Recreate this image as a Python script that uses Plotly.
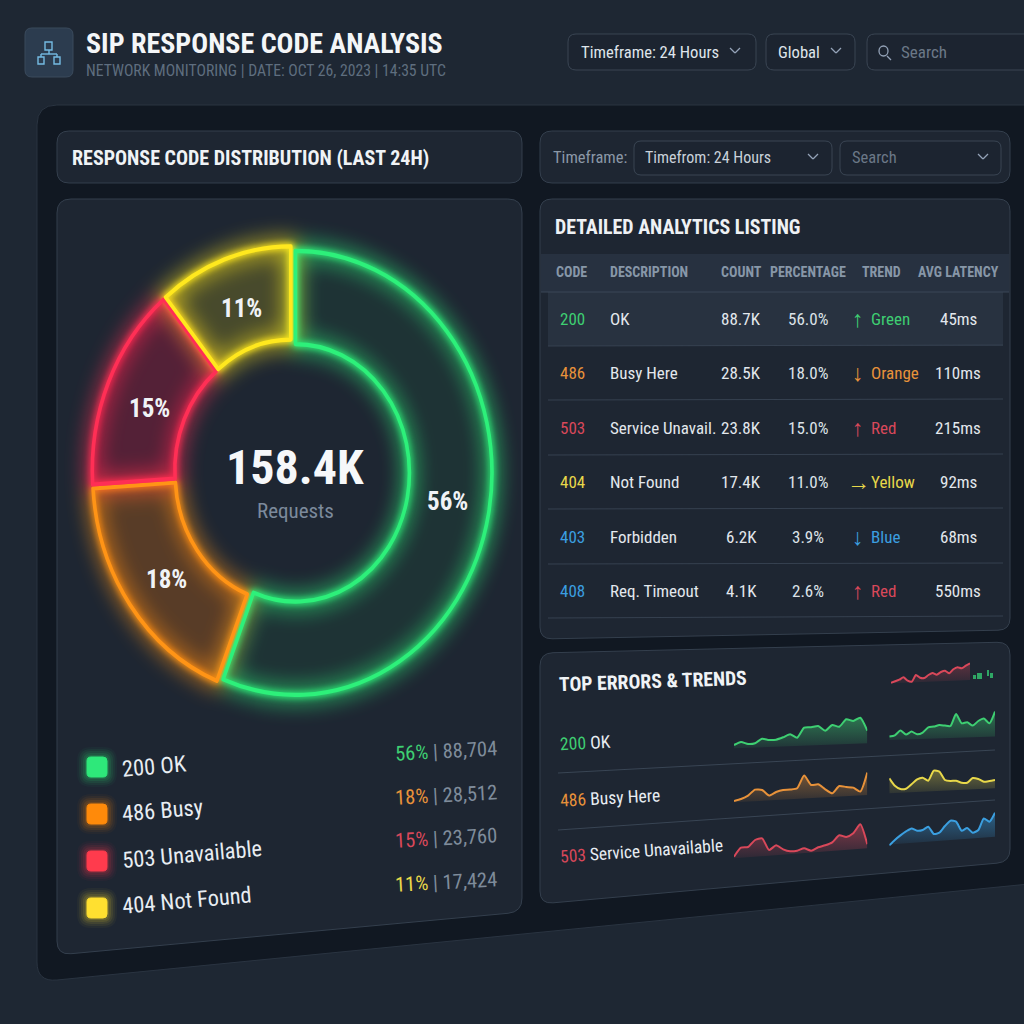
import plotly.graph_objects as go

# chart data
code_names = ['200 OK', '486 Busy', '503 Unavailable', '404 Not Found']
code_counts = [88704, 28512, 23760, 17424]
code_shares = ['56%', '18%', '15%', '11%']
count_labels = ['88,704', '28,512', '23,760', '17,424']

table_headers = ['CODE', 'DESCRIPTION', 'COUNT', 'PERCENTAGE', 'TREND', 'AVG LATENCY']
table_codes = ['200', '486', '503', '404', '403', '408']
table_desc = ['OK', 'Busy Here', 'Service Unavail.', 'Not Found', 'Forbidden', 'Req. Timeout']
table_counts = ['88.7K', '28.5K', '23.8K', '17.4K', '6.2K', '4.1K']
table_pct = ['56.0%', '18.0%', '15.0%', '11.0%', '3.9%', '2.6%']
table_arrows = ['↑', '↓', '↑', '→', '↓', '↑']
table_trend = ['Green', 'Orange', 'Red', 'Yellow', 'Blue', 'Red']
table_latency = ['45ms', '110ms', '215ms', '92ms', '68ms', '550ms']

spark_200_a = [5, 8, 6, 6.7, 11.3, 10, 10.3, 12.7, 15.7, 12.3, 22.3, 22.7, 24, 19.3, 25, 23.3, 30.7, 29, 32.3, 19.3]
spark_200_b = [6.7, 8, 12.7, 8.7, 11.7, 9, 10.7, 16, 16.7, 18.3, 17.7, 17.3, 29.3, 20, 21, 17.7, 22.3, 24.7, 20, 31.7]
spark_486_a = [2.3, 4.3, 7.7, 13.7, 13.3, 7.7, 11.3, 13.3, 13.7, 15, 27.7, 18.3, 19, 14, 10, 17.3, 16.3, 15.7, 11.7, 30.7]
spark_486_b = [16.7, 9.3, 6, 6.3, 10.7, 15.7, 17.3, 14.3, 24.3, 23.3, 15, 14, 14.3, 12.3, 12.3, 17, 16, 13.3, 14, 15]
spark_503_a = [3.3, 12.3, 13, 20, 21.7, 10, 14.7, 10.7, 8.7, 9.3, 11.7, 9.3, 12.7, 14.7, 17.7, 24.7, 23, 26.7, 35.7, 15.7]
spark_503_b = [1.3, 6.7, 11.3, 15.3, 18.3, 16, 16.7, 20, 12.7, 14, 20.7, 26, 25, 16, 18.7, 14, 16.7, 28.3, 25, 34]
spark_top = [2.3, 3.7, 5.3, 7.7, 4.3, 3.3, 10, 7.3, 7, 10, 12, 10.3, 13, 14.3, 11.7, 15.7, 17.7, 16.7, 19.3, 21.7]

FONT = 'Roboto Condensed, Liberation Sans Narrow, Roboto, sans-serif'
BG = '#1e2733'
DARK = '#111822'
CARD = '#1e2632'
EDGE = '#343f4d'
GREEN, ORANGE, RED, YELLOW, BLUE = '#3ecf72', '#e8923a', '#d9485a', '#e8d84a', '#3b9fe0'
NEON = ['#2df07a', '#ff9416', '#ff2f55', '#ffe81e']
SLICE = ['rgba(36,170,90,0.10)', 'rgba(240,120,10,0.28)', 'rgba(240,20,70,0.26)', 'rgba(240,220,20,0.20)']
SWATCH = ['#2ee87a', '#ff8a0a', '#ff3b4d', '#ffe030']
CODE_COLORS = [GREEN, ORANGE, RED, YELLOW, BLUE, BLUE]
TREND_COLORS = [GREEN, ORANGE, RED, YELLOW, BLUE, RED]
NO_FILL = ['rgba(0,0,0,0)'] * 4

shapes = []
notes = []


def rgba(color, alpha):
    r, g, b = (int(color[i:i + 2], 16) for i in (1, 3, 5))
    return f'rgba({r},{g},{b},{alpha})'


def px(x):
    return x / 1024


def py(y):
    return 1 - y / 1024


def rounded(pts, r):
    # rounded quadrilateral through the four corners, in paper units
    path = ''
    n = len(pts)
    for i in range(n):
        x0, y0 = pts[i - 1]
        x1, y1 = pts[i]
        x2, y2 = pts[(i + 1) % n]
        d0 = ((x1 - x0) ** 2 + (y1 - y0) ** 2) ** 0.5
        d2 = ((x2 - x1) ** 2 + (y2 - y1) ** 2) ** 0.5
        a = (x1 + (x0 - x1) * r / d0, y1 + (y0 - y1) * r / d0)
        b = (x1 + (x2 - x1) * r / d2, y1 + (y2 - y1) * r / d2)
        path += ('M' if i == 0 else 'L') + f'{px(a[0]):.5f},{py(a[1]):.5f} '
        path += f'Q{px(x1):.5f},{py(y1):.5f} {px(b[0]):.5f},{py(b[1]):.5f} '
    return path + 'Z'


def card(pts, r=12, fill=CARD, edge=EDGE, width=1):
    shapes.append(dict(type='path', path=rounded(pts, r), xref='paper', yref='paper', fillcolor=fill,
                       line=dict(color=edge, width=width), layer='below'))


def box(x0, y0, x1, y1, **kw):
    card([(x0, y0), (x1, y0), (x1, y1), (x0, y1)], **kw)


def seg(x0, y0, x1, y1, color=EDGE, width=1):
    shapes.append(dict(type='line', xref='paper', yref='paper', x0=px(x0), y0=py(y0), x1=px(x1), y1=py(y1),
                       line=dict(color=color, width=width), layer='below'))


def chevron(x, y, color='#94a3b8'):
    seg(x - 5, y - 3, x, y + 2, color, 1.3)
    seg(x, y + 2, x + 5, y - 3, color, 1.3)


def txt(s, x, y, size, color='#e8edf2', anchor='left', angle=0, weight=400):
    notes.append(dict(text=s, x=px(x), y=py(y), xref='paper', yref='paper', xanchor=anchor, yanchor='middle',
                      showarrow=False, textangle=angle, borderpad=0,
                      font=dict(family=FONT, size=size, color=color, weight=weight)))


# page and big panel
card([(37, 105), (1100, 105), (1100, 877), (37, 982)], r=20, fill=DARK, edge='#2a3441')
card([(57, 199), (522, 199), (522, 912), (57, 955)], r=14)
box(57, 131, 522, 183, r=12)
box(540, 131, 1010, 183, r=12)
box(634, 141, 832, 175, r=7, fill='#1c2430', edge='#3a4553')
box(840, 141, 1001, 175, r=7, fill='#1c2430', edge='#3a4553')
card([(540, 199), (1010, 199), (1010, 630), (540, 639)], r=12)
card([(540, 653), (1010, 642), (1010, 862), (540, 904)], r=13)

# header
box(25, 28, 73, 77, r=7, fill='#2c3c4f', edge='#3a4a5c')
for x0, y0, x1, y1 in [(45, 42, 52, 50), (38, 57, 44, 64), (54, 57, 60, 64)]:
    shapes.append(dict(type='rect', xref='paper', yref='paper', x0=px(x0), y0=py(y0), x1=px(x1), y1=py(y1),
                       line=dict(color='#74bbe3', width=1.4)))
seg(49, 50, 49, 54, '#74bbe3', 1.4)
seg(41, 54, 57, 54, '#74bbe3', 1.4)
seg(41, 54, 41, 57, '#74bbe3', 1.4)
seg(57, 54, 57, 57, '#74bbe3', 1.4)
txt('SIP RESPONSE CODE ANALYSIS', 85, 43, 28, '#f4f6f8', weight=700)
txt('NETWORK MONITORING | DATE: OCT 26, 2023 | 14:35 UTC', 85, 70, 15.7, '#5f6e7f')
box(568, 34, 756, 70, r=8, fill='#1c2430', edge='#3a4553')
box(766, 34, 855, 70, r=8, fill='#1c2430', edge='#3a4553')
box(867, 34, 1060, 70, r=8, fill='#1c2430', edge='#3a4553')
txt('Timeframe: 24 Hours', 580, 52, 16.6, '#dfe5eb')
chevron(735, 51)
txt('Global', 777, 52, 16.6, '#dfe5eb')
chevron(836, 51)
shapes.append(dict(type='circle', xref='paper', yref='paper', x0=px(879), y0=py(46), x1=px(888), y1=py(56),
                   line=dict(color='#94a3b8', width=1.3)))
seg(887, 56, 891, 60, '#94a3b8', 1.3)
txt('Search', 900, 52, 17, '#6b7887')

# filter rows
txt('RESPONSE CODE DISTRIBUTION (LAST 24H)', 71, 158, 20, '#f0f3f6', weight=700)
txt('Timeframe:', 552, 157, 16.5, '#8b98a7')
txt('Timefrom: 24 Hours', 644, 157, 16, '#c9d1da')
chevron(813, 157)
txt('Search', 851, 157, 16.5, '#6b7887')
chevron(983, 157)

# donut legend
for i, name in enumerate(code_names):
    yc = 767 + 47 * i
    for grow, alpha in [(10, 0.04), (8, 0.06), (6, 0.08), (4, 0.1), (2, 0.14)]:
        box(87 - grow, yc - 10 - grow, 107 + grow, yc + 10 + grow, r=4 + grow, fill=rgba(SWATCH[i], alpha),
            edge='rgba(0,0,0,0)', width=0)
    box(87, yc - 10, 107, yc + 10, r=4, fill=SWATCH[i], edge=SWATCH[i])
    txt(name, 120, yc - 1 - [0, 3, 6, 7][i], 22.4, '#e8edf2', angle=-5)
    colored = f'<span style="color:{CODE_COLORS[i]}">{code_shares[i]}</span> | {count_labels[i]}'
    txt(colored, 499, 751 + 43.7 * i, 20.5, '#7f8c9b', anchor='right', angle=-3)

# donut labels
txt('158.4K', 295, 467, 48, '#f6f8fa', anchor='center', weight=700)
txt('Requests', 295, 511, 21, '#7c8a9c', anchor='center')
txt('56%', 447, 501, 25, '#f0f3f6', anchor='center', weight=700)
txt('18%', 166, 579, 25, '#f0f3f6', anchor='center', weight=700)
txt('15%', 149, 408, 25, '#f0f3f6', anchor='center', weight=700)
txt('11%', 241, 308, 25, '#f0f3f6', anchor='center', weight=700)

# detail table
txt('DETAILED ANALYTICS LISTING', 554, 227, 19.9, '#eef1f4', weight=700)
shapes.append(dict(type='rect', xref='paper', yref='paper', x0=px(541), y0=py(254), x1=px(1009), y1=py(292),
                   fillcolor='#273140', line=dict(width=0), layer='below'))
shapes.append(dict(type='rect', xref='paper', yref='paper', x0=px(548), y0=py(292), x1=px(1003), y1=py(346),
                   fillcolor='#283240', line=dict(width=0), layer='below'))
seg(541, 292, 1009, 292, '#3a4656')
head_x = [571, 609, 741, 808, 881, 958]
for i, label in enumerate(table_headers):
    txt(label, head_x[i], 272, 14, '#8797a8', anchor='left' if i == 1 else 'center', weight=700)
row_y = [319, 373, 428, 482, 537, 591]
for i, yc in enumerate(row_y):
    seg(548, yc + 27, 1003, yc + 26 - (i == 5), '#364150')
    txt(table_codes[i], 572, yc, 17, CODE_COLORS[i], anchor='center')
    txt(table_desc[i], 609, yc, 17, '#e3e8ed')
    txt(table_counts[i], 741, yc, 17, '#e3e8ed', anchor='center')
    txt(table_pct[i], 808, yc, 17, '#dce2e8', anchor='center')
    txt(table_arrows[i], 858, yc, 23, TREND_COLORS[i], anchor='center')
    txt(table_trend[i], 870, yc, 17, TREND_COLORS[i])
    txt(table_latency[i], 958, yc, 17, '#e3e8ed', anchor='center')

# trends card
txt('TOP ERRORS & TRENDS', 558, 681, 19.7, '#f0f3f6', angle=-2, weight=700)
txt(f'<span style="color:{GREEN}">200</span> OK', 558, 743, 17.6, '#e8edf2', angle=-3)
txt(f'<span style="color:{ORANGE}">486</span> Busy Here', 558, 798, 17.6, '#e8edf2', angle=-3)
txt(f'<span style="color:{RED}">503</span> Service Unavailable', 558, 851, 17.4, '#e8edf2', angle=-4)
seg(558, 773, 995, 750, '#394554')
seg(558, 830, 995, 800, '#394554')
for x0, x1, y0, y1 in [(973, 976, 675, 679), (977, 982, 673, 679), (987, 989, 670, 676), (990, 993, 673, 678)]:
    shapes.append(dict(type='rect', xref='paper', yref='paper', x0=px(x0), y0=py(y0), x1=px(x1), y1=py(y1),
                       fillcolor='#2fa765', line=dict(width=0)))

fig = go.Figure()

# two blurred halos first, then the visible ring (see post_script)
for fills, stroke in [(NO_FILL, 13), (NO_FILL, 6), (SLICE, 3.6)]:
    fig.add_trace(go.Pie(values=code_counts, labels=code_names, sort=False, direction='clockwise', rotation=0, hole=0.58,
                         domain=dict(x=[px(92), px(492)], y=[py(672), py(272)]), textinfo='none', hoverinfo='skip',
                         pull=0.018, showlegend=False,
                         marker=dict(colors=fills, line=dict(color=NEON, width=stroke))))


def spark(n, values, base, color, x0, x1, bottom):
    # one unit on the small axis is one pixel of the card
    xname, yname = f'x{n}', f'y{n}'
    xs = list(range(len(values)))
    fig.add_trace(go.Scatter(x=[xs[0], xs[-1]], y=base, mode='lines', line=dict(width=0), xaxis=xname, yaxis=yname,
                             hoverinfo='skip', showlegend=False))
    fig.add_trace(go.Scatter(x=xs, y=values, mode='lines', line=dict(color=color, width=2, shape='spline', smoothing=0.6),
                             fill='tonexty', xaxis=xname, yaxis=yname, hoverinfo='skip', showlegend=False,
                             fillgradient=dict(type='vertical', start=0, stop=30,
                                               colorscale=[[0, rgba(color, 0.06)], [1, rgba(color, 0.44)]])))
    fig.layout[f'xaxis{n}'] = dict(domain=[px(x0), px(x1)], range=[0, len(values) - 1], visible=False, fixedrange=True,
                                   anchor=yname)
    fig.layout[f'yaxis{n}'] = dict(domain=[py(bottom), py(bottom - 40)], range=[0, 40], visible=False, fixedrange=True,
                                   anchor=xname)


spark(2, spark_top, [1.7, 5], RED, 891, 970, 685)
spark(3, spark_200_a, [1.7, 6.7], GREEN, 734, 867.3, 750)
spark(4, spark_200_b, [3.3, 6.7], GREEN, 889.3, 995, 743.3)
spark(5, spark_486_a, [1, 8.3], ORANGE, 734, 867.3, 803.3)
spark(6, spark_486_b, [1.7, 6.7], YELLOW, 889.3, 995, 795)
spark(7, spark_503_a, [1.7, 11.7], RED, 734, 867.3, 860)
spark(8, spark_503_b, [2.3, 10], BLUE, 889.3, 995, 846.7)

fig.update_layout(width=1024, height=1024, margin=dict(l=0, r=0, t=0, b=0), paper_bgcolor=BG, plot_bgcolor='rgba(0,0,0,0)',
                  shapes=shapes, annotations=notes, showlegend=False, hovermode=False)

# the ring in the reference is taller than wide, and neon-lit
post = """
document.body.style.margin = '0';
document.body.style.overflow = 'hidden';
var gd = document.getElementById('{plot_id}');
var layer = gd.querySelector('.pielayer');
layer.setAttribute('transform', 'translate(0,471) scale(1,1.13) translate(0,-471)');
var rings = layer.querySelectorAll('.trace');
rings[0].style.filter = 'blur(10px)';
rings[0].style.opacity = '0.75';
rings[1].style.filter = 'blur(3px)';
"""
fig.write_html('out.html', post_script=post, config={'displayModeBar': False})
